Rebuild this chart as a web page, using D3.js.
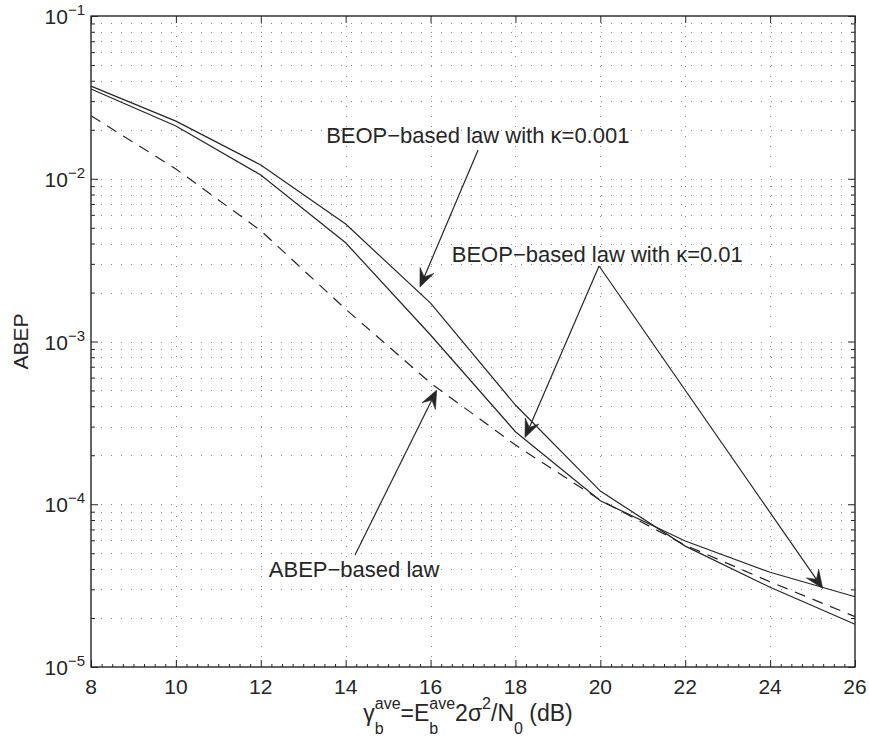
<!DOCTYPE html>
<html>
<head>
<meta charset="utf-8">
<script src="https://cdn.jsdelivr.net/npm/d3@7"></script>
<style>
  body { margin: 0; background: #fff; }
  svg { display: block; }
  text { font-family: "Liberation Sans", Arial, sans-serif; fill: #262626; }
</style>
</head>
<body>
<svg id="chart" width="869" height="747"></svg>
<script>
// Average SNR per bit (dB) at which each law was evaluated
const snrDb = [8, 10, 12, 14, 16, 18, 20, 22, 24, 26];
// ABEP of the BEOP-based power law, kappa = 0.001
const beopKappa0001 = [0.0371, 0.0226, 0.01215, 0.00527, 0.00172, 0.000407, 1.205e-4, 5.53e-5, 3.09e-5, 1.83e-5];
// ABEP of the BEOP-based power law, kappa = 0.01
const beopKappa001 = [0.0356, 0.0211, 0.01055, 0.00404, 0.001096, 0.000279, 1.05e-4, 5.94e-5, 3.82e-5, 2.70e-5];
// ABEP of the ABEP-based power law (dashed)
const abepLaw = [0.0244, 0.01148, 0.0048, 0.00158, 0.000556, 0.000231, 1.06e-4, 5.6e-5, 3.34e-5, 2.04e-5];

const xTicks = [8, 10, 12, 14, 16, 18, 20, 22, 24, 26];
const yDecadeExponents = [-5, -4, -3, -2, -1];

// Annotation text anchors and arrows, in data units [dB, ABEP]
const annotationLabels = ["BEOP\u2212based law with \u03BA=0.001", "BEOP\u2212based law with \u03BA=0.01", "ABEP\u2212based law"];
const annotationAnchors = [[13.54, 0.01659], [16.50, 3.08e-3], [12.19, 3.57e-5]];
const arrowTails = [[17.12, 0.01502], [19.97, 2.91e-3], [19.97, 2.91e-3], [14.22, 4.88e-5]];
const arrowTips = [[15.75, 2.16e-3], [18.225, 2.57e-4], [25.24, 3.04e-5], [16.145, 5.03e-4]];

const svg = d3.select("#chart");
const box = { left: 91, right: 855, top: 16, bottom: 667 };
const ink = "#262626";

const x = d3.scaleLinear().domain([8, 26]).range([box.left, box.right]);
const y = d3.scaleLog().domain([1e-5, 1e-1]).range([box.bottom, box.top]);

// log grid values: 1..9 x 10^k for every decade, plus the top decade
const yMajor = yDecadeExponents.map(e => Math.pow(10, e));
const yMinor = [];
yDecadeExponents.slice(0, -1).forEach(e => {
  for (let k = 2; k <= 9; k++) yMinor.push(k * Math.pow(10, e));
});
const xMinor = d3.range(8, 26.001, 0.25).filter(v => !xTicks.includes(v));

// dotted grid
const grid = svg.append("g").attr("stroke", "#8c8c8c").attr("stroke-width", 1)
  .attr("stroke-dasharray", "1,9").attr("fill", "none");
grid.selectAll("line.gx").data(xTicks.slice(1, -1)).join("line")
  .attr("x1", d => Math.round(x(d)) + 0.5).attr("x2", d => Math.round(x(d)) + 0.5)
  .attr("y1", box.bottom).attr("y2", box.top);
grid.selectAll("line.gy").data(yMajor.slice(1, -1).concat(yMinor)).join("line")
  .attr("y1", d => Math.round(y(d)) + 0.5).attr("y2", d => Math.round(y(d)) + 0.5)
  .attr("x1", box.left).attr("x2", box.right);

// inward ticks on all four sides
function tickAxis(axis, transform, values, size) {
  const g = svg.append("g").attr("transform", transform)
    .call(axis.tickValues(values).tickSize(size).tickFormat(""));
  g.select(".domain").remove();
  g.selectAll(".tick line").attr("stroke", ink).attr("stroke-width", 1);
  return g;
}
tickAxis(d3.axisBottom(x), `translate(0,${box.bottom})`, xTicks, -7);
tickAxis(d3.axisTop(x), `translate(0,${box.top})`, xTicks, -7);
tickAxis(d3.axisBottom(x), `translate(0,${box.bottom})`, xMinor, -3);
tickAxis(d3.axisLeft(y), `translate(${box.left},0)`, yMajor, -7);
tickAxis(d3.axisRight(y), `translate(${box.right},0)`, yMajor, -7);
tickAxis(d3.axisLeft(y), `translate(${box.left},0)`, yMinor, -4);
tickAxis(d3.axisRight(y), `translate(${box.right},0)`, yMinor, -4);

// frame
svg.append("rect").attr("x", box.left).attr("y", box.top)
  .attr("width", box.right - box.left).attr("height", box.bottom - box.top)
  .attr("fill", "none").attr("stroke", ink).attr("stroke-width", 1.4);

// x tick labels
svg.append("g").selectAll("text").data(xTicks).join("text")
  .attr("x", d => x(d)).attr("y", box.bottom + 27)
  .attr("text-anchor", "middle").attr("font-size", 21).text(d => d);

// y tick labels 10^k
const yl = svg.append("g").selectAll("text").data(yDecadeExponents).join("text")
  .attr("x", box.left - 6).attr("y", d => y(Math.pow(10, d)) + 8)
  .attr("text-anchor", "end").attr("font-size", 21);
yl.append("tspan").text("10");
yl.append("tspan").attr("font-size", 15).attr("dy", -9).text(d => "\u2212" + Math.abs(d));

// curves
const line = d3.line().x(d => x(d[0])).y(d => y(d[1]));
const curves = [
  { values: beopKappa0001, dash: null },
  { values: beopKappa001, dash: null },
  { values: abepLaw, dash: "11,8" }
];
svg.append("g").selectAll("path").data(curves).join("path")
  .attr("d", c => line(snrDb.map((s, i) => [s, c.values[i]])))
  .attr("fill", "none").attr("stroke", ink).attr("stroke-width", 1.2)
  .attr("stroke-dasharray", c => c.dash);

// annotation arrows with notched heads
const arrows = svg.append("g");
arrowTails.forEach((tail, i) => {
  const x0 = x(tail[0]), y0 = y(tail[1]);
  const x1 = x(arrowTips[i][0]), y1 = y(arrowTips[i][1]);
  const ang = Math.atan2(y1 - y0, x1 - x0);
  const L = 18, halfW = 7.5, notch = 11;
  const ux = Math.cos(ang), uy = Math.sin(ang), px = -uy, py = ux;
  arrows.append("line").attr("x1", x0).attr("y1", y0)
    .attr("x2", x1 - ux * notch).attr("y2", y1 - uy * notch)
    .attr("stroke", ink).attr("stroke-width", 1.2);
  const pts = [
    [x1, y1],
    [x1 - ux * L + px * halfW, y1 - uy * L + py * halfW],
    [x1 - ux * notch, y1 - uy * notch],
    [x1 - ux * L - px * halfW, y1 - uy * L - py * halfW]
  ];
  arrows.append("path").attr("d", "M" + pts.map(p => p.join(",")).join("L") + "Z")
    .attr("fill", ink).attr("stroke", ink).attr("stroke-width", 0.6);
});

// annotation texts
svg.append("g").selectAll("text").data(annotationLabels).join("text")
  .attr("x", (d, i) => x(annotationAnchors[i][0]))
  .attr("y", (d, i) => y(annotationAnchors[i][1]))
  .attr("font-size", 22).text(d => d);

// y axis title
svg.append("text").attr("transform", `translate(28,${(box.top + box.bottom) / 2}) rotate(-90)`)
  .attr("text-anchor", "middle").attr("font-size", 21).text("ABEP");

// x axis title with stacked super/subscripts
const xTitlePieces = [
  { t: "\u03B3", s: 23, dy: 0 },
  { t: "ave", s: 16, dy: -12 },
  { t: "b", s: 16, dy: 13, stack: true },
  { t: "=E", s: 23, dy: 0 },
  { t: "ave", s: 16, dy: -12 },
  { t: "b", s: 16, dy: 13, stack: true },
  { t: "2\u03C3", s: 23, dy: 0 },
  { t: "2", s: 16, dy: -12 },
  { t: "/N", s: 23, dy: 0 },
  { t: "0", s: 16, dy: 13 },
  { t: " (dB)", s: 23, dy: 0 }
];
const xt = svg.append("g");
const baseY = 721;
let cursor = 0, prevStart = 0, prevW = 0;
const placed = xTitlePieces.map(p => {
  const el = xt.append("text").attr("font-size", p.s).attr("y", baseY + p.dy)
    .attr("xml:space", "preserve").style("white-space", "pre").text(p.t);
  const w = el.node().getComputedTextLength();
  let start;
  if (p.stack) {
    start = prevStart;
    cursor = start + Math.max(prevW, w);
  } else {
    start = cursor;
    cursor = start + w;
  }
  prevStart = start; prevW = w;
  return { el, start };
});
const offset = (box.left + box.right) / 2 - 5 - cursor / 2;
placed.forEach(p => p.el.attr("x", offset + p.start));
</script>
</body>
</html>
